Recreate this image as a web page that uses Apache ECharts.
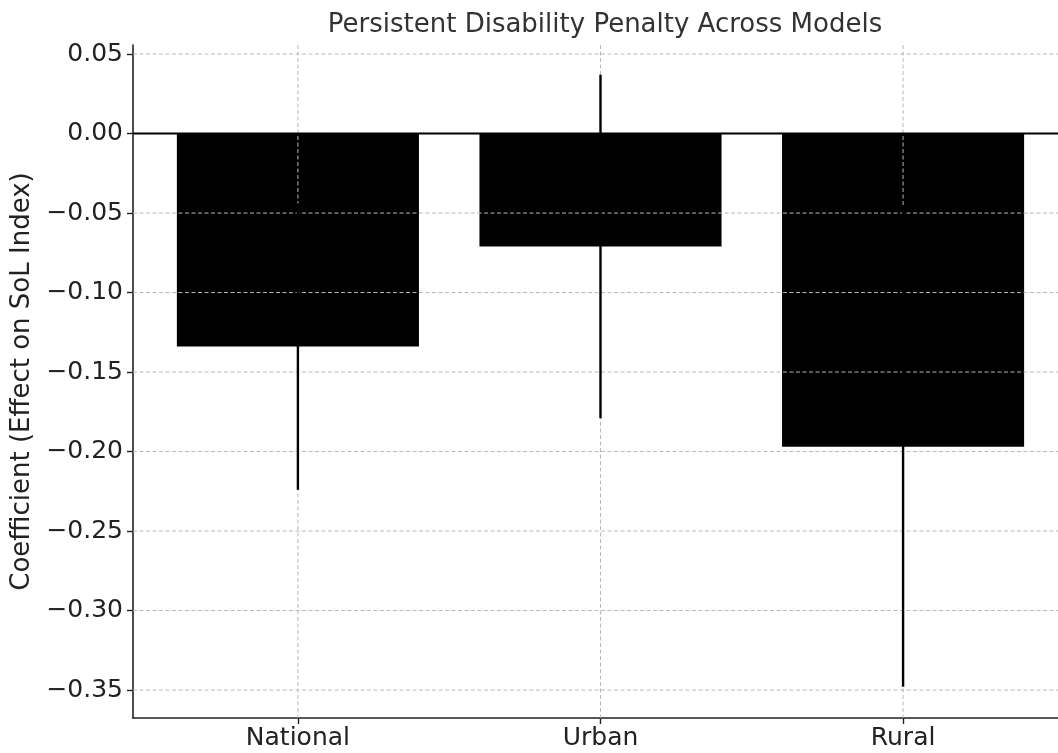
<!DOCTYPE html>
<html>
<head>
<meta charset="utf-8">
<title>Persistent Disability Penalty Across Models</title>
<script src="https://cdn.jsdelivr.net/npm/echarts@6/dist/echarts.min.js"></script>
<style>
  html, body { margin: 0; padding: 0; background: #fff; }
  #chart { width: 1058px; height: 753px; }
</style>
</head>
<body>
<div id="chart"></div>
<script>
// Model groups and estimated coefficients with their error half-widths
const categories = ['National', 'Urban', 'Rural'];
const coefficients = [-0.134, -0.071, -0.197];
const errors = [0.090, 0.108, 0.151];

// Y tick values
const yTicks = [0.05, 0.0, -0.05, -0.10, -0.15, -0.20, -0.25, -0.30, -0.35];

// Axis extents
const yMin = -0.3676, yMax = 0.0557;
const xMin = -0.545, xMax = 2.512;
const barHalf = 0.4;

const FONT = 'DejaVu Sans';
const TEXT = '#222';
const GRID = '#b8b8b8';

const fmt = v => (Math.abs(v) < 1e-9 ? '0.00' : v.toFixed(2).replace('-', '\u2212'));

const chart = echarts.init(document.getElementById('chart'));

const catIdx = categories.map((c, i) => i);

chart.setOption({
  animation: false,
  backgroundColor: '#fff',
  title: {
    text: 'Persistent Disability Penalty Across Models',
    left: 600, top: 7,
    textAlign: 'center',
    textStyle: { fontFamily: FONT, fontSize: 26, fontWeight: 'normal', color: '#333' }
  },
  grid: { left: 133, right: 0, top: 45, bottom: 35, containLabel: false, outerBoundsMode: 'none' },
  xAxis: {
    type: 'value', min: xMin, max: xMax,
    axisLine: { show: true, onZero: false, lineStyle: { color: '#222', width: 1.6 } },
    axisTick: { show: true, length: 6, customValues: catIdx, lineStyle: { color: '#222', width: 1.4 } },
    axisLabel: {
      customValues: catIdx, margin: 8,
      formatter: v => categories[Math.round(v)] || '',
      fontFamily: FONT, fontSize: 25, color: TEXT
    },
    splitLine: { show: false }
  },
  yAxis: {
    type: 'value', min: yMin, max: yMax,
    name: 'Coefficient (Effect on SoL Index)',
    nameLocation: 'middle', nameGap: 96, nameRotate: 90,
    nameTextStyle: { fontFamily: FONT, fontSize: 26, color: TEXT },
    axisLine: { show: true, onZero: false, lineStyle: { color: '#222', width: 1.6 } },
    axisTick: { show: true, length: 6, customValues: yTicks, lineStyle: { color: '#222', width: 1.4 } },
    axisLabel: {
      customValues: yTicks, margin: 10, formatter: fmt,
      fontFamily: FONT, fontSize: 25, color: TEXT
    },
    splitLine: { show: false }
  },
  series: [
    {
      // bars from zero to each coefficient
      type: 'custom', z: 2,
      data: catIdx.map(i => [i, coefficients[i]]),
      renderItem: (params, api) => {
        const i = api.value(0), v = api.value(1);
        const a = api.coord([i - barHalf, 0]);
        const b = api.coord([i + barHalf, v]);
        return {
          type: 'rect',
          shape: { x: Math.min(a[0], b[0]), y: Math.min(a[1], b[1]),
                   width: Math.abs(b[0] - a[0]), height: Math.abs(b[1] - a[1]) },
          style: { fill: '#000' }
        };
      }
    },
    {
      // horizontal dashed grid lines
      type: 'custom', z: 3, silent: true,
      data: yTicks.map(t => [t]),
      renderItem: (params, api) => {
        const t = api.value(0);
        const a = api.coord([xMin, t]);
        const b = api.coord([xMax, t]);
        return {
          type: 'line',
          shape: { x1: a[0], y1: a[1], x2: b[0], y2: b[1] },
          style: { stroke: GRID, lineWidth: 1, lineDash: [4, 2.5] }
        };
      }
    },
    {
      // vertical dashed grid lines at each category
      type: 'custom', z: 3, silent: true,
      data: catIdx.map(i => [i]),
      renderItem: (params, api) => {
        const i = api.value(0);
        const a = api.coord([i, yMax]);
        const b = api.coord([i, yMin]);
        return {
          type: 'line',
          shape: { x1: a[0], y1: a[1], x2: b[0], y2: b[1] },
          style: { stroke: GRID, lineWidth: 1, lineDash: [4, 2.5] }
        };
      }
    },
    {
      // error bars (coefficient ± error)
      type: 'custom', z: 4,
      data: catIdx.map(i => [i, coefficients[i] - errors[i], coefficients[i] + errors[i]]),
      renderItem: (params, api) => {
        const i = api.value(0);
        const lo = api.coord([i, api.value(1)]);
        const hi = api.coord([i, api.value(2)]);
        return {
          type: 'line',
          shape: { x1: lo[0], y1: lo[1], x2: hi[0], y2: hi[1] },
          style: { stroke: '#000', lineWidth: 2.4 }
        };
      }
    },
    {
      // zero reference line
      type: 'custom', z: 5, silent: true,
      data: [[0]],
      renderItem: (params, api) => {
        const a = api.coord([xMin, api.value(0)]);
        const b = api.coord([xMax, api.value(0)]);
        return {
          type: 'line',
          shape: { x1: a[0], y1: a[1], x2: b[0], y2: b[1] },
          style: { stroke: '#000', lineWidth: 2 }
        };
      }
    }
  ]
});
</script>
</body>
</html>
